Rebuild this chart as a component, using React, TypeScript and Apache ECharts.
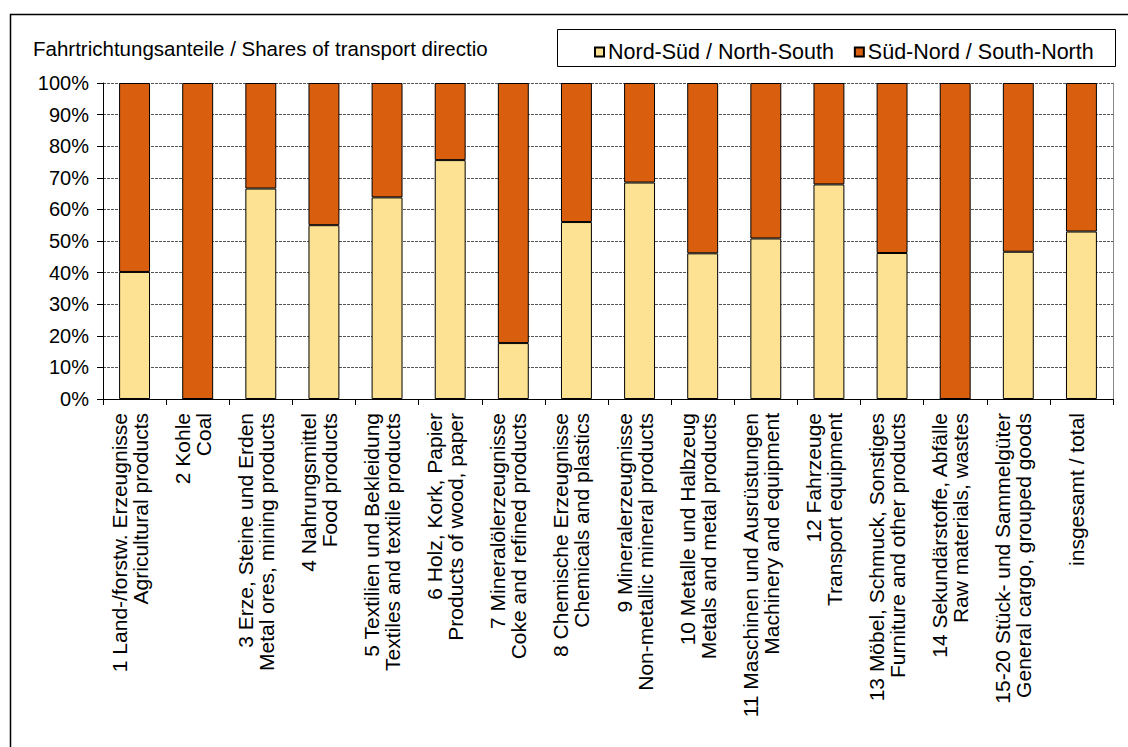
import React, { useEffect, useRef } from "react";
import * as echarts from "echarts";

const title = "Fahrtrichtungsanteile / Shares of transport directio";

const categories = [
  "1 Land-/forstw. Erzeugnisse\nAgricultural products",
  "2 Kohle\nCoal",
  "3 Erze, Steine und Erden\nMetal ores, mining products",
  "4 Nahrungsmittel\nFood products",
  "5 Textilien und Bekleidung\nTextiles and textile products",
  "6 Holz, Kork, Papier\nProducts of wood, paper",
  "7 Mineralölerzeugnisse\nCoke and refined products",
  "8 Chemische Erzeugnisse\nChemicals and plastics",
  "9 Mineralerzeugnisse\nNon-metallic mineral products",
  "10 Metalle und Halbzeug\nMetals and metal products",
  "11 Maschinen und Ausrüstungen\nMachinery and equipment",
  "12 Fahrzeuge\nTransport equipment",
  "13 Möbel, Schmuck, Sonstiges\nFurniture and other products",
  "14 Sekundärstoffe, Abfälle\nRaw materials, wastes",
  "15-20 Stück- und Sammelgüter\nGeneral cargo, grouped goods",
  "insgesamt / total",
];

const seriesNames = ["Nord-Süd / North-South", "Süd-Nord / South-North"];

const northSouth = [40.2, 0, 66.6, 55, 63.8, 75.6, 17.7, 56, 68.5, 46.1, 50.8, 67.9, 46.2, 0, 46.6, 53];
const southNorth = [59.8, 100, 33.4, 45, 36.2, 24.4, 82.3, 44, 31.5, 53.9, 49.2, 32.1, 53.8, 100, 53.4, 47];

const FONT = "'Liberation Sans', Arial, sans-serif";

export default function App() {
  const ref = useRef<HTMLDivElement>(null);
  useEffect(() => {
    if (!ref.current) return;
    const chart = echarts.init(ref.current, null, { renderer: "svg" });
    chart.setOption({
      animation: false,
      backgroundColor: "#fff",
      textStyle: { fontFamily: FONT, color: "#000" },
      grid: { left: 103, right: 15, top: 83, bottom: 348, containLabel: false },
      graphic: [
        {
          type: "rect",
          shape: { x: 10.5, y: 14.5, width: 1200, height: 800 },
          style: { fill: "none", stroke: "#000", lineWidth: 1.5 },
          z: 100,
        },
        {
          type: "text",
          x: 33,
          y: 48,
          style: {
            text: title,
            fontFamily: FONT,
            fontSize: 20.5,
            fill: "#000",
            textVerticalAlign: "middle",
          },
        },
        {
          type: "rect",
          shape: { x: 557.5, y: 29.5, width: 558, height: 37 },
          style: { fill: "#fff", stroke: "#000", lineWidth: 1 },
          z: 0,
        },
      ],
      legend: {
        left: 589,
        top: 36,
        itemWidth: 9,
        itemHeight: 9,
        itemGap: 20,
        icon: "rect",
        textStyle: { fontFamily: FONT, fontSize: 21.5, color: "#000", padding: [0, 0, 0, -1] },
        data: seriesNames,
        z: 10,
      },
      xAxis: {
        type: "category",
        data: categories,
        axisLine: { lineStyle: { color: "#000", width: 1 } },
        axisTick: { show: true, length: 6, alignWithLabel: false, lineStyle: { color: "#000" } },
        axisLabel: {
          interval: 0,
          rotate: 90,
          margin: 14,
          fontFamily: FONT,
          fontSize: 21,
          lineHeight: 21,
          color: "#000",
          formatter: (v: string) => v + "\n{s| }",
          rich: { s: { fontSize: 4, lineHeight: 10 } },
        },
      },
      yAxis: [
        {
          type: "value",
          min: 0,
          max: 100,
          interval: 10,
          axisLine: { show: true, lineStyle: { color: "#000", width: 1 } },
          axisTick: { show: true, length: 6, lineStyle: { color: "#000" } },
          axisLabel: {
            formatter: "{value}%",
            fontFamily: FONT,
            fontSize: 20,
            color: "#000",
            margin: 14,
          },
          splitLine: { show: true, lineStyle: { color: "#555", type: [3, 1], width: 1 } },
        },
        {
          type: "value",
          position: "right",
          min: 0,
          max: 100,
          interval: 10,
          axisLine: { show: true, lineStyle: { color: "#888", width: 1 } },
          axisTick: { show: false },
          axisLabel: { show: false },
          splitLine: { show: false },
        },
      ],
      series: [
        {
          name: seriesNames[0],
          type: "bar",
          stack: "total",
          barWidth: "49%",
          data: northSouth,
          itemStyle: { color: "#FDE293", borderColor: "#000", borderWidth: 1 },
        },
        {
          name: seriesNames[1],
          type: "bar",
          stack: "total",
          barWidth: "49%",
          data: southNorth,
          itemStyle: { color: "#D95F0F", borderColor: "#000", borderWidth: 1 },
        },
      ],
    });
    return () => chart.dispose();
  }, []);
  return (
    <div
      ref={ref}
      style={{ position: "fixed", left: 0, top: 0, width: 1128, height: 747 }}
    />
  );
}
